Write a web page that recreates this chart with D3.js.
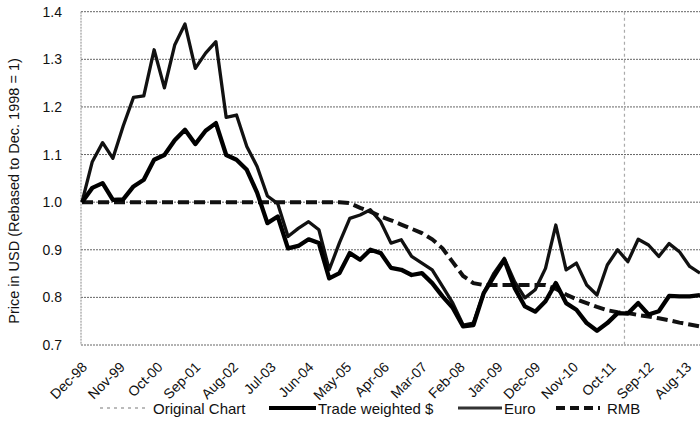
<!DOCTYPE html>
<html>
<head>
<meta charset="utf-8">
<script src="https://cdn.jsdelivr.net/npm/d3@7"></script>
<style>
  body { margin: 0; background: #fff; }
  text { font-family: "Liberation Sans", Arial, sans-serif; fill: #111; }
</style>
</head>
<body>
<div id="chart"></div>
<script>
// Quarterly values, Dec-98 .. Dec-13 (rebased, Dec-98 = 1)
var tradeWeighted = [1.0,1.03,1.04,1.005,1.006,1.033,1.047,1.089,1.099,1.13,1.152,1.122,1.15,1.166,1.099,1.089,1.068,1.02,0.956,0.97,0.903,0.908,0.922,0.914,0.84,0.851,0.893,0.879,0.9,0.893,0.862,0.858,0.847,0.851,0.83,0.802,0.778,0.739,0.742,0.809,0.844,0.879,0.82,0.781,0.77,0.792,0.83,0.788,0.774,0.746,0.73,0.746,0.767,0.766,0.788,0.764,0.771,0.803,0.802,0.802,0.805];
var euro = [1.0,1.085,1.125,1.092,1.16,1.22,1.223,1.32,1.24,1.33,1.374,1.281,1.313,1.337,1.178,1.183,1.117,1.075,1.013,0.997,0.928,0.945,0.959,0.942,0.858,0.915,0.966,0.973,0.984,0.959,0.914,0.921,0.886,0.872,0.858,0.823,0.788,0.742,0.746,0.809,0.851,0.882,0.833,0.799,0.816,0.861,0.952,0.858,0.872,0.826,0.805,0.868,0.9,0.875,0.922,0.91,0.886,0.913,0.896,0.865,0.851];
var rmb = [1,1,1,1,1,1,1,1,1,1,1,1,1,1,1,1,1,1,1,1,1,1,1,1,1,1,0.998,0.988,0.98,0.97,0.962,0.953,0.944,0.935,0.922,0.903,0.874,0.845,0.83,0.826,0.826,0.826,0.826,0.826,0.826,0.826,0.818,0.806,0.796,0.788,0.78,0.773,0.769,0.767,0.763,0.76,0.756,0.752,0.747,0.743,0.739];

// x labels, one every 11 months
var tickLabels = ["Dec-98","Nov-99","Oct-00","Sep-01","Aug-02","Jul-03","Jun-04","May-05","Apr-06","Mar-07","Feb-08","Jan-09","Dec-09","Nov-10","Oct-11","Sep-12","Aug-13"];
var tickMonths = [0,11,22,33,44,55,66,77,88,99,110,121,132,143,154,165,176];
var yTicks = [0.7,0.8,0.9,1.0,1.1,1.2,1.3,1.4];
var originalChartEnd = 158; // month where original chart stopped

var w = 700, h = 436;
var plotLeft = 82, plotRight = 700, plotTop = 11.7, plotBottom = 345;

var svg = d3.select("#chart").append("svg").attr("width", w).attr("height", h);

var x = d3.scaleLinear().domain([0, 180]).range([plotLeft, plotRight]);
var y = d3.scaleLinear().domain([0.7, 1.4]).range([plotBottom, plotTop]);

// grid lines
svg.selectAll("line.grid")
  .data(yTicks)
  .enter()
  .append("line")
  .attr("class", "grid")
  .attr("x1", plotLeft - 1).attr("x2", w)
  .attr("y1", function(d) { return y(d); })
  .attr("y2", function(d) { return y(d); })
  .attr("stroke", "#666")
  .attr("stroke-width", 1)
  .attr("stroke-dasharray", "2,1");

// left border
svg.append("line")
  .attr("x1", plotLeft - 1).attr("x2", plotLeft - 1)
  .attr("y1", y(1.4)).attr("y2", y(0.7))
  .attr("stroke", "#888")
  .attr("stroke-dasharray", "2,1");

// y labels
svg.selectAll("text.ylab")
  .data(yTicks)
  .enter()
  .append("text")
  .attr("class", "ylab")
  .attr("x", 62)
  .attr("y", function(d) { return y(d) + 5; })
  .attr("text-anchor", "end")
  .style("font-size", "14px")
  .text(function(d) { return d3.format(".1f")(d); });

// y title
svg.append("text")
  .attr("transform", "translate(19,191) rotate(-90)")
  .attr("text-anchor", "middle")
  .style("font-size", "14.5px")
  .text("Price in USD (Rebased to Dec. 1998 = 1)");

// x labels
svg.selectAll("text.xlab")
  .data(tickLabels)
  .enter()
  .append("text")
  .attr("class", "xlab")
  .attr("text-anchor", "end")
  .attr("transform", function(d, i) {
    return "translate(" + (x(tickMonths[i]) + 6) + ",368) rotate(-45)";
  })
  .style("font-size", "14px")
  .text(function(d) { return d; });

// original chart marker
svg.append("line")
  .attr("x1", x(originalChartEnd)).attr("x2", x(originalChartEnd))
  .attr("y1", y(1.4)).attr("y2", y(0.7))
  .attr("stroke", "#aaa")
  .attr("stroke-width", 1.2)
  .attr("stroke-dasharray", "3,3");

var line = d3.line()
  .x(function(d, i) { return x(i * 3); })
  .y(function(d) { return y(d); });

svg.append("clipPath").attr("id", "plot")
  .append("rect").attr("x", plotLeft - 2).attr("y", 0).attr("width", w).attr("height", h);

var g = svg.append("g").attr("clip-path", "url(#plot)");

g.append("path").datum(rmb)
  .attr("d", line)
  .attr("fill", "none")
  .attr("stroke", "#111")
  .attr("stroke-width", 4)
  .attr("stroke-dasharray", "11,5");

g.append("path").datum(euro)
  .attr("d", line)
  .attr("fill", "none")
  .attr("stroke", "#111")
  .attr("stroke-width", 3.3)
  .attr("stroke-linejoin", "round");

g.append("path").datum(tradeWeighted)
  .attr("d", line)
  .attr("fill", "none")
  .attr("stroke", "#000")
  .attr("stroke-width", 4.3)
  .attr("stroke-linejoin", "round");

// legend
var legendY = 408;
var legend = [
  {name: "Original Chart", x1: 100, x2: 147, color: "#bbb", width: 2, dash: "3,4"},
  {name: "Trade weighted $", x1: 269, x2: 316, color: "#000", width: 4, dash: null},
  {name: "Euro", x1: 458, x2: 502, color: "#333", width: 3, dash: null},
  {name: "RMB", x1: 556, x2: 600, color: "#111", width: 4, dash: "9,5"}
];
var textX = [153, 318, 504, 607];

legend.forEach(function(item, i) {
  svg.append("line")
    .attr("x1", item.x1).attr("x2", item.x2)
    .attr("y1", legendY).attr("y2", legendY)
    .attr("stroke", item.color)
    .attr("stroke-width", item.width)
    .attr("stroke-dasharray", item.dash);
  svg.append("text")
    .attr("x", textX[i])
    .attr("y", legendY + 5.5)
    .style("font-size", "15px")
    .text(item.name);
});
</script>
</body>
</html>
